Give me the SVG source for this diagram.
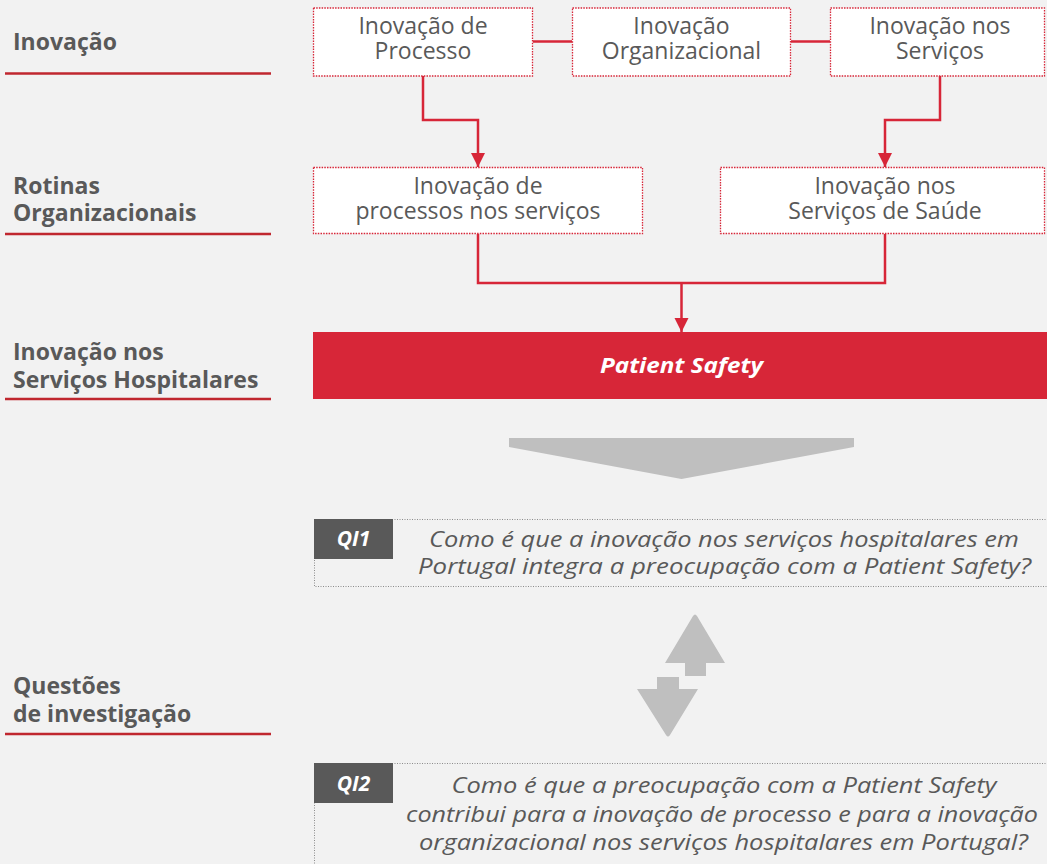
<svg xmlns="http://www.w3.org/2000/svg" width="1047" height="864" viewBox="0 0 1047 864">
<defs>
<style>
.lbl{font-family:"Open Sans","Liberation Sans",sans-serif;font-weight:bold;font-size:23px;fill:#595959}
.uline{stroke:#C0272F;stroke-width:2.5}
.box{fill:#FFFFFF;stroke:#D72638;stroke-width:1.3;stroke-dasharray:1.5 1.2}
.bt{font-family:"Open Sans","Liberation Sans",sans-serif;font-size:23px;fill:#595959;text-anchor:middle}
.con{fill:none;stroke:#D72638;stroke-width:2.5}
.qbox{fill:none;stroke:#8C8C8C;stroke-width:1;stroke-dasharray:1 1.5}
.qlab{fill:#595959}
.qlt{font-family:"Open Sans","Liberation Sans",sans-serif;font-weight:bold;font-style:italic;font-size:21px;fill:#FFFFFF;text-anchor:middle}
.qt{font-family:"Open Sans","Liberation Sans",sans-serif;font-style:italic;font-size:21px;fill:#595959;text-anchor:middle}
.grey{fill:#BFBFBF}
</style>
<marker id="ah" markerUnits="userSpaceOnUse" markerWidth="16" markerHeight="16" viewBox="0 0 16 16" refX="14" refY="8" orient="auto">
<path d="M0,1 L14,8 L0,15 Z" fill="#D72638"/>
</marker>
</defs>
<rect width="1047" height="864" fill="#F2F2F2"/>

<g id="left-labels">
<g id="lbl-inovacao">
<text class="lbl" x="13" y="50">Inovação</text>
<line class="uline" x1="5" y1="73.5" x2="271" y2="73.5"/>
</g>
<g id="lbl-rotinas">
<text class="lbl" x="13" y="194">Rotinas</text>
<text class="lbl" x="13" y="221">Organizacionais</text>
<line class="uline" x1="5" y1="234" x2="271" y2="234"/>
</g>
<g id="lbl-hospitalares">
<text class="lbl" x="13" y="360">Inovação nos</text>
<text class="lbl" x="13" y="388">Serviços Hospitalares</text>
<line class="uline" x1="5" y1="399" x2="271" y2="399"/>
</g>
<g id="lbl-questoes">
<text class="lbl" x="13" y="694">Questões</text>
<text class="lbl" x="13" y="722">de investigação</text>
<line class="uline" x1="5" y1="734" x2="271" y2="734"/>
</g>
</g>

<g id="connectors">
<line class="con" x1="533" y1="41.5" x2="572" y2="41.5"/>
<line class="con" x1="791" y1="41.5" x2="830" y2="41.5"/>
<path class="con" d="M423,76 V120 H478 V167" marker-end="url(#ah)"/>
<path class="con" d="M940,76 V120 H885 V167" marker-end="url(#ah)"/>
<path class="con" d="M478,234 V283 H885 V234"/>
<path class="con" d="M681.5,283 V332" marker-end="url(#ah)"/>
</g>

<g id="n-processo">
<rect class="box" x="313.5" y="8" width="219" height="68"/>
<text class="bt" x="423" y="34">Inovação de</text>
<text class="bt" x="423" y="59">Processo</text>
</g>
<g id="n-organizacional">
<rect class="box" x="572.5" y="8" width="218" height="68"/>
<text class="bt" x="681.5" y="34">Inovação</text>
<text class="bt" x="681.5" y="59">Organizacional</text>
</g>
<g id="n-servicos">
<rect class="box" x="830.5" y="8" width="214" height="68"/>
<text class="bt" x="940" y="34">Inovação nos</text>
<text class="bt" x="940" y="59">Serviços</text>
</g>
<g id="n-proc-servicos">
<rect class="box" x="313.5" y="167.5" width="329" height="66"/>
<text class="bt" x="478" y="194">Inovação de</text>
<text class="bt" x="478" y="219">processos nos serviços</text>
</g>
<g id="n-saude">
<rect class="box" x="720.5" y="167.5" width="324" height="66"/>
<text class="bt" x="885" y="194">Inovação nos</text>
<text class="bt" x="885" y="219">Serviços de Saúde</text>
</g>

<g id="n-patient-safety">
<rect x="313" y="332" width="734" height="67" fill="#D72638"/>
<text x="681.5" y="373" font-family="'Open Sans','Liberation Sans',sans-serif" font-weight="bold" font-style="italic" font-size="22" fill="#FFFFFF" text-anchor="middle" textLength="163" lengthAdjust="spacingAndGlyphs">Patient Safety</text>
</g>

<g id="chevron">
<polygon class="grey" points="509,438 854,438 854,447 681.5,479 509,447"/>
</g>

<g id="n-qi1">
<rect class="qbox" x="314.5" y="519.5" width="740" height="67"/>
<rect class="qlab" x="314" y="519" width="79" height="40"/>
<text class="qlt" x="353.5" y="546">QI1</text>
<text class="qt" x="724" y="547" textLength="590" lengthAdjust="spacingAndGlyphs">Como é que a inovação nos serviços hospitalares em</text>
<text class="qt" x="724.5" y="574" textLength="613" lengthAdjust="spacingAndGlyphs">Portugal integra a preocupação com a Patient Safety?</text>
</g>

<g id="updown-arrows">
<path class="grey" d="M685,676 V663 H665 L693,616 Q695,613 697,616 L725,663 H706 V676 Z"/>
<path class="grey" d="M657,677 H679 V689 H698 L670,735 Q668,738 666,735 L637,689 H657 Z"/>
</g>

<g id="n-qi2">
<rect class="qbox" x="314.5" y="763.5" width="740" height="120"/>
<rect class="qlab" x="314" y="763" width="79" height="40"/>
<text class="qlt" x="353.5" y="791">QI2</text>
<text class="qt" x="724" y="793" textLength="545" lengthAdjust="spacingAndGlyphs">Como é que a preocupação com a Patient Safety</text>
<text class="qt" x="722" y="822" textLength="632" lengthAdjust="spacingAndGlyphs">contribui para a inovação de processo e para a inovação</text>
<text class="qt" x="723.5" y="850" textLength="609" lengthAdjust="spacingAndGlyphs">organizacional nos serviços hospitalares em Portugal?</text>
</g>
</svg>
